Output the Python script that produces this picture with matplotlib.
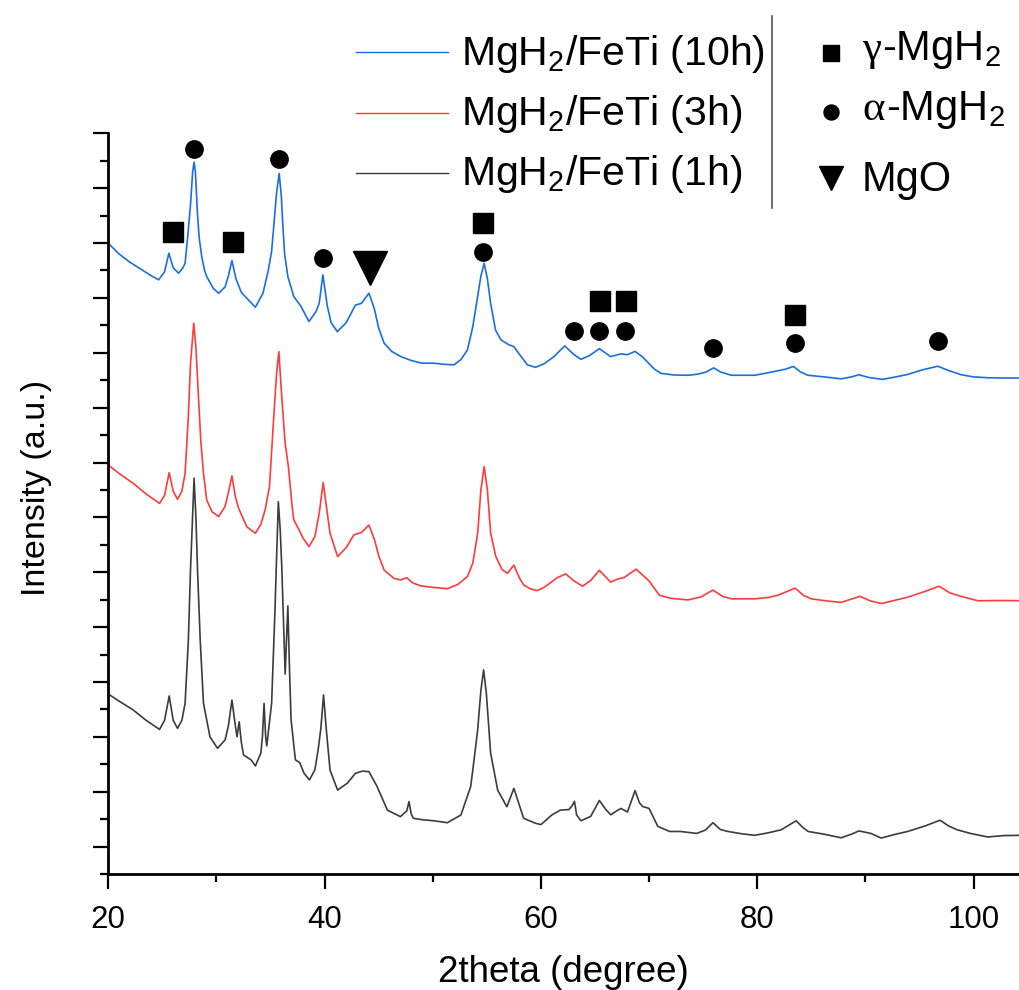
import matplotlib

matplotlib.use("Agg")
import matplotlib.pyplot as plt
from matplotlib.lines import Line2D
from matplotlib.ticker import FixedLocator, MultipleLocator, NullFormatter

plt.rcParams["font.family"] = ["Liberation Sans", "DejaVu Sans"]
plt.rcParams["mathtext.fontset"] = "custom"
plt.rcParams["mathtext.rm"] = "Liberation Sans"
plt.rcParams["mathtext.it"] = "Liberation Sans:italic"
plt.rcParams["mathtext.default"] = "regular"

# XRD patterns (2theta in degree, intensity in a.u. incl. offset)
x_10h = [20.0, 21.0, 22.0, 23.0, 24.0, 24.65, 25.2, 25.6, 26.0, 26.5, 26.9, 27.1, 27.4, 27.6,
         27.8, 27.93, 28.05, 28.24, 28.4, 28.64, 28.9, 29.1, 29.7, 30.2, 30.8, 31.1, 31.43, 31.8,
         32.3, 32.8, 33.6, 34.3, 34.8, 35.1, 35.27, 35.55, 35.8, 36.0, 36.1, 36.3, 36.6, 37.15,
         37.8, 38.55, 39.2, 39.5, 39.84, 40.25, 40.6, 41.17, 42.0, 42.85, 43.4, 44.1, 44.6, 45.0,
         45.5, 46.2, 47.05, 48.0, 49.0, 50.1, 51.0, 51.96, 52.6, 53.2, 53.7, 54.15, 54.45, 54.75,
         55.05, 55.35, 55.8, 56.3, 57.0, 57.5, 58.0, 58.75, 59.5, 60.3, 61.2, 62.2, 63.0, 63.7,
         64.5, 65.4, 66.45, 67.4, 68.0, 68.7, 69.4, 69.9, 70.5, 71.1, 72.3, 73.6, 74.5, 75.3,
         75.96, 76.6, 77.6, 78.5, 79.75, 80.7, 81.6, 82.6, 83.35, 84.0, 84.68, 86.2, 87.75, 88.7,
         89.4, 90.3, 91.6, 92.8, 93.9, 95.3, 96.7, 97.7, 98.85, 100.0, 101.3, 102.8, 104.3]
y_10h = [22.99, 22.6, 22.3, 22.05, 21.8, 21.66, 21.95, 22.63, 22.1, 21.9, 22.1, 22.26, 23.48, 24.4,
         25.6, 25.95, 25.6, 24.09, 23.2, 22.5, 22.0, 21.78, 21.35, 21.17, 21.4, 21.8, 22.36, 21.7,
         21.2, 20.99, 20.66, 21.17, 22.02, 22.7, 23.48, 24.8, 25.54, 24.7, 23.9, 22.6, 21.78, 21.05,
         20.7, 20.14, 20.5, 20.8, 21.84, 20.7, 20.1, 19.77, 20.1, 20.74, 20.8, 21.17, 20.6, 19.9,
         19.35, 19.05, 18.86, 18.72, 18.62, 18.62, 18.58, 18.56, 18.75, 19.1, 19.95, 21.05, 21.8, 22.26,
         21.7, 20.8, 19.83, 19.47, 19.3, 19.22, 18.95, 18.56, 18.47, 18.6, 18.86, 19.25, 18.95, 18.76,
         18.9, 19.15, 18.86, 18.96, 18.93, 19.05, 18.85, 18.64, 18.4, 18.25, 18.19, 18.18, 18.22, 18.3,
         18.45, 18.3, 18.18, 18.18, 18.18, 18.25, 18.32, 18.4, 18.5, 18.3, 18.18, 18.12, 18.05, 18.12,
         18.2, 18.1, 18.03, 18.12, 18.21, 18.38, 18.51, 18.35, 18.2, 18.12, 18.09, 18.08, 18.08]

x_3h = [20.0, 21.0, 22.3, 23.5, 24.74, 25.2, 25.63, 26.0, 26.4, 26.8, 27.1, 27.4, 27.6, 27.9,
        28.1, 28.35, 28.55, 28.8, 29.1, 29.6, 30.2, 30.8, 31.1, 31.43, 31.75, 32.05, 32.8, 33.6,
        34.1, 34.5, 34.9, 35.3, 35.55, 35.77, 36.0, 36.35, 36.65, 37.0, 37.15, 37.6, 38.0, 38.55,
        39.1, 39.5, 39.87, 40.25, 40.5, 41.2, 42.0, 42.7, 43.4, 44.1, 44.6, 45.0, 45.5, 46.4,
        47.0, 47.6, 48.1, 48.9, 50.0, 51.35, 52.3, 53.2, 53.7, 54.15, 54.45, 54.75, 55.05, 55.35,
        55.83, 56.4, 56.9, 57.5, 58.0, 58.4, 59.0, 59.65, 60.3, 61.0, 61.5, 62.3, 63.0, 63.85,
        64.6, 65.4, 66.45, 67.1, 67.7, 68.8, 69.4, 70.0, 70.95, 72.0, 73.6, 74.8, 75.9, 76.8,
        77.6, 79.75, 81.0, 81.9, 83.5, 84.3, 85.0, 86.5, 87.75, 89.5, 90.5, 91.5, 93.9, 95.5,
        96.8, 97.8, 98.85, 100.4, 102.5, 104.3]
y_3h = [14.91, 14.6, 14.24, 13.85, 13.51, 13.8, 14.63, 13.95, 13.66, 13.95, 14.6, 16.67, 18.6, 20.08,
        19.2, 17.28, 15.8, 14.6, 13.63, 13.2, 13.03, 13.4, 13.9, 14.51, 13.75, 13.33, 12.66, 12.42,
        12.75, 13.27, 14.12, 16.67, 18.2, 19.04, 17.6, 15.7, 14.85, 13.39, 12.91, 12.57, 12.25, 11.93,
        12.3, 13.15, 14.27, 13.15, 12.42, 11.57, 11.9, 12.36, 12.45, 12.72, 12.2, 11.6, 11.08, 10.78,
        10.72, 10.8, 10.62, 10.5, 10.45, 10.4, 10.55, 10.84, 11.33, 12.42, 14.0, 14.85, 14.0, 12.42,
        11.57, 11.1, 10.96, 11.26, 10.8, 10.54, 10.4, 10.33, 10.45, 10.65, 10.8, 10.94, 10.7, 10.49,
        10.7, 11.07, 10.64, 10.75, 10.81, 11.11, 10.9, 10.68, 10.16, 10.05, 9.99, 10.1, 10.35, 10.12,
        10.03, 10.03, 10.08, 10.16, 10.42, 10.15, 10.03, 9.95, 9.9, 10.12, 9.95, 9.86, 10.09, 10.3,
        10.49, 10.25, 10.12, 9.96, 9.97, 9.96]

x_1h = [20.0, 21.0, 22.3, 23.5, 24.74, 25.2, 25.63, 26.0, 26.4, 26.8, 27.1, 27.4, 27.6, 27.93,
        28.1, 28.25, 28.5, 28.8, 29.4, 30.1, 30.8, 31.1, 31.43, 31.75, 31.9, 32.1, 32.3, 32.5,
        33.2, 33.6, 34.1, 34.25, 34.4, 34.55, 34.65, 35.1, 35.4, 35.72, 35.9, 36.05, 36.35, 36.6,
        36.75, 36.9, 37.3, 37.7, 38.1, 38.6, 39.1, 39.4, 39.65, 39.9, 40.15, 40.5, 41.2, 42.1,
        42.85, 43.5, 44.1, 44.85, 45.8, 47.0, 47.6, 47.8, 48.0, 48.2, 49.0, 50.1, 51.35, 52.6,
        53.5, 53.7, 54.15, 54.45, 54.7, 54.95, 55.2, 55.35, 56.0, 56.85, 57.5, 58.4, 59.5, 60.0,
        61.0, 61.8, 62.6, 62.9, 63.1, 63.3, 63.7, 64.6, 65.4, 66.0, 66.45, 67.0, 67.4, 68.0,
        68.7, 69.1, 69.4, 70.0, 70.8, 71.9, 72.9, 74.4, 75.2, 75.9, 76.6, 77.3, 78.5, 79.75,
        81.0, 82.2, 83.6, 84.2, 84.7, 86.2, 87.75, 88.7, 89.4, 90.5, 91.45, 92.8, 93.9, 95.5,
        96.9, 97.7, 98.5, 99.7, 101.3, 102.8, 104.3]
y_1h = [6.56, 6.3, 5.98, 5.6, 5.27, 5.6, 6.49, 5.6, 5.31, 5.6, 6.22, 8.5, 11.08, 14.43,
        13.0, 11.08, 8.5, 6.22, 5.0, 4.58, 4.89, 5.4, 6.34, 5.4, 5.0, 5.55, 4.8, 4.34,
        4.16, 3.94, 4.4, 5.0, 6.22, 5.0, 4.67, 6.22, 9.5, 13.57, 12.5, 11.08, 7.29, 9.77,
        7.5, 5.61, 4.16, 4.06, 3.67, 3.43, 3.8, 4.52, 5.3, 6.53, 5.3, 3.79, 3.06, 3.31,
        3.67, 3.75, 3.73, 3.19, 2.33, 2.09, 2.3, 2.64, 2.2, 2.03, 1.98, 1.94, 1.87, 2.15,
        3.18, 3.79, 5.25, 6.7, 7.44, 6.6, 5.25, 4.4, 3.06, 2.45, 3.12, 2.03, 1.85, 1.8,
        2.15, 2.33, 2.35, 2.5, 2.65, 2.15, 1.94, 2.1, 2.68, 2.35, 2.16, 2.3, 2.39, 2.26,
        3.04, 2.6, 2.46, 2.39, 1.74, 1.55, 1.55, 1.48, 1.6, 1.87, 1.62, 1.55, 1.47, 1.41,
        1.5, 1.61, 1.94, 1.7, 1.55, 1.45, 1.32, 1.45, 1.57, 1.48, 1.31, 1.45, 1.55, 1.75,
        1.96, 1.75, 1.61, 1.48, 1.35, 1.4, 1.41]

# phase markers above the 10h pattern
gamma_x = [26.0, 31.5, 54.66, 65.44, 67.85, 83.53]
gamma_y = [23.42, 23.02, 23.72, 20.87, 20.87, 20.38]
alpha_x = [27.9, 35.74, 39.87, 54.66, 63.06, 65.35, 67.75, 75.92, 83.53, 96.7]
alpha_y = [26.43, 26.07, 22.47, 22.67, 19.81, 19.81, 19.81, 19.17, 19.37, 19.43]
mgo_x = [44.19]
mgo_y = [22.09]

labels = ["MgH$_2$/FeTi (10h)", "MgH$_2$/FeTi (3h)", "MgH$_2$/FeTi (1h)"]
colors = ["#1a6fe0", "#ff3b3b", "#3c3c3c"]
phase_greek = ["\u03b3", "\u03b1", ""]
phase_rest = ["-MgH$_2$", "-MgH$_2$", "MgO"]

W, H = 1019, 990
fig = plt.figure(figsize=(W / 100, H / 100), dpi=100)
ax = fig.add_axes([108.3 / W, 1 - 874 / H, 1 - 108.3 / W, (874 - 133.3) / H])

for xs, ys, c in zip([x_10h, x_3h, x_1h], [y_10h, y_3h, y_1h], colors):
    ax.plot(xs, ys, color=c, lw=1.2)

ax.plot(gamma_x, gamma_y, "s", color="black", ms=14.5, ls="none", clip_on=False)
ax.plot(alpha_x, alpha_y, "o", color="black", ms=12.5, ls="none", clip_on=False)
ax.plot(mgo_x, mgo_y, "v", color="black", ms=24, ls="none", clip_on=False)

ax.set_xlim(20, 104.2)
ax.set_ylim(0, 27)
for s in ["top", "right"]:
    ax.spines[s].set_visible(False)
for s in ["left", "bottom"]:
    ax.spines[s].set_linewidth(2.0)

ax.xaxis.set_major_locator(MultipleLocator(20))
ax.xaxis.set_minor_locator(MultipleLocator(10))
ax.yaxis.set_major_locator(FixedLocator(list(range(1, 28, 2))))
ax.yaxis.set_minor_locator(MultipleLocator(1))
ax.yaxis.set_major_formatter(NullFormatter())
ax.tick_params(which="major", direction="out", length=11, width=1.6, labelsize=22.5, pad=11)
ax.tick_params(which="minor", direction="out", length=5.5, width=1.6)

ax.set_xlabel("2theta (degree)", fontsize=26.5, labelpad=15)
ax.set_ylabel("Intensity (a.u.)", fontsize=24.5)
ax.yaxis.set_label_coords(-0.062, 0.521)

# sample legend (left block)
for i, (lab, c) in enumerate(zip(labels, colors)):
    yc = 1 - (52 + 60.5 * i) / H
    fig.add_artist(Line2D([356 / W, 448 / W], [yc, yc], color=c, lw=1.0))
    fig.text(461 / W, 1 - (65 + 60 * i) / H, lab, fontsize=29.5, va="baseline", ha="left")

# separator
fig.add_artist(Line2D([772 / W, 772 / W], [1 - 16 / H, 1 - 208 / H], color="#555555", lw=1.2))

# phase legend (right block); greek letters in a serif face like the original
renderer = fig.canvas.get_renderer()
mk = [("s", 12.2, 52.7), ("o", 10.8, 111.7), ("v", 16.6, 178)]
base = [60, 120, 191]
for (m, ms, py), g, rest, b in zip(mk, phase_greek, phase_rest, base):
    fig.add_artist(Line2D([831 / W], [1 - py / H], marker=m, ms=ms, color="black", ls="none"))
    x0 = 862
    if g:
        t = fig.text(x0 / W, 1 - b / H, g, fontsize=31, va="baseline", ha="left",
                     family="Liberation Serif")
        x0 += t.get_window_extent(renderer).width + 1
    fig.text(x0 / W, 1 - b / H, rest, fontsize=30, va="baseline", ha="left")

fig.savefig("out.png", dpi=100)
